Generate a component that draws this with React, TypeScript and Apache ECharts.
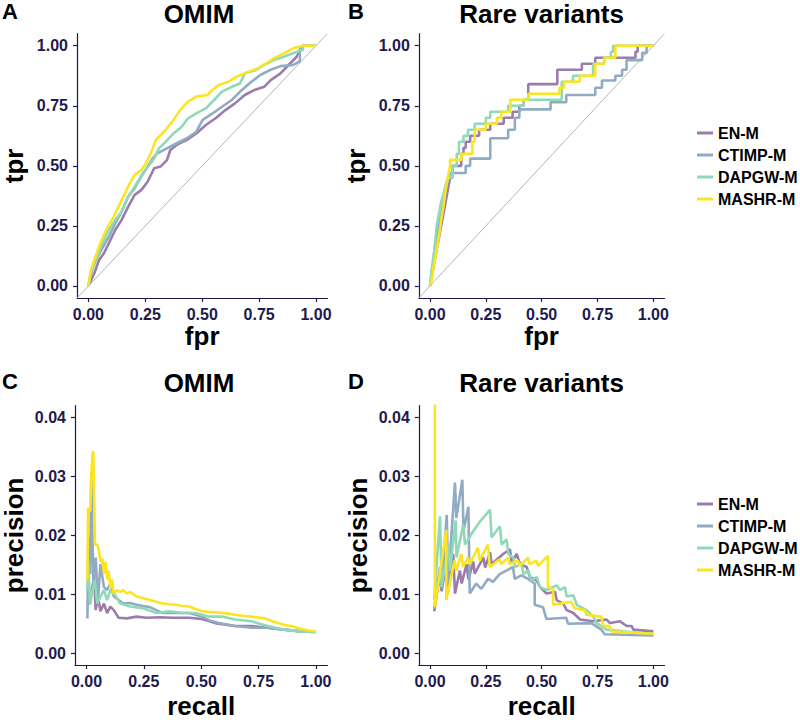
import React, { useEffect, useRef } from "react";
import * as echarts from "echarts";

const methods = ["EN-M", "CTIMP-M", "DAPGW-M", "MASHR-M"];
const methodColors = ["#9b7dac", "#90abc3", "#90d9b8", "#fbe421"];
const panelLetters = ["A", "B", "C", "D"];
const panelTitles = ["OMIM", "Rare variants", "OMIM", "Rare variants"];
const xTitles = ["fpr", "fpr", "recall", "recall"];
const yTitles = ["tpr", "tpr", "precision", "precision"];
const unitTicks = [0, 0.25, 0.5, 0.75, 1];
const precisionTicks = [0, 0.01, 0.02, 0.03, 0.04];
const diagonal = [[-0.05, -0.05], [1.05, 1.05]];

// Panel A: ROC, OMIM  [fpr, tpr]
const rocOmimEN = [[0,0],[0.026,0.053],[0.047,0.108],[0.068,0.136],[0.09,0.178],[0.118,0.233],[0.146,0.275],[0.175,0.33],[0.203,0.379],[0.232,0.399],[0.26,0.434],[0.289,0.49],[0.317,0.497],[0.345,0.524],[0.36,0.566],[0.388,0.587],[0.431,0.607],[0.474,0.635],[0.516,0.67],[0.559,0.698],[0.602,0.732],[0.644,0.76],[0.687,0.795],[0.73,0.816],[0.772,0.829],[0.801,0.857],[0.844,0.885],[0.886,0.926],[0.915,0.954],[0.929,0.982],[0.943,1],[1,1]];
const rocOmimCTIMP = [[0,0],[0.016,0.067],[0.033,0.108],[0.061,0.157],[0.09,0.205],[0.118,0.261],[0.146,0.309],[0.175,0.372],[0.203,0.406],[0.232,0.455],[0.26,0.497],[0.282,0.531],[0.303,0.552],[0.345,0.573],[0.388,0.594],[0.431,0.614],[0.474,0.642],[0.502,0.691],[0.545,0.718],[0.587,0.746],[0.63,0.774],[0.673,0.815],[0.716,0.85],[0.758,0.88],[0.801,0.9],[0.844,0.915],[0.9,0.92],[0.929,0.935],[0.929,0.982],[0.943,1],[1,1]];
const rocOmimDAPGW = [[0,0],[0.011,0.06],[0.033,0.108],[0.061,0.178],[0.09,0.233],[0.118,0.275],[0.146,0.309],[0.175,0.372],[0.203,0.413],[0.239,0.469],[0.267,0.503],[0.289,0.531],[0.31,0.573],[0.339,0.6],[0.374,0.635],[0.41,0.663],[0.438,0.698],[0.474,0.718],[0.516,0.739],[0.552,0.774],[0.587,0.809],[0.63,0.829],[0.666,0.843],[0.687,0.885],[0.737,0.899],[0.772,0.92],[0.815,0.94],[0.858,0.954],[0.915,0.975],[0.943,0.982],[0.943,1],[1,1]];
const rocOmimMASHR = [[0,0],[0.011,0.067],[0.026,0.108],[0.047,0.164],[0.068,0.212],[0.09,0.254],[0.111,0.288],[0.132,0.33],[0.161,0.386],[0.182,0.427],[0.203,0.462],[0.232,0.483],[0.253,0.51],[0.274,0.552],[0.296,0.607],[0.317,0.628],[0.345,0.656],[0.374,0.691],[0.403,0.732],[0.438,0.767],[0.474,0.788],[0.524,0.795],[0.545,0.816],[0.573,0.837],[0.616,0.85],[0.651,0.871],[0.687,0.885],[0.744,0.906],[0.779,0.926],[0.815,0.947],[0.858,0.968],[0.9,0.989],[0.943,1],[1,1]];

// Panel B: ROC, rare variants  [fpr, tpr]
const rocRareEN = [[0,0],[0.01,0.05],[0.02,0.1],[0.03,0.15],[0.04,0.2],[0.05,0.25],[0.06,0.3],[0.07,0.35],[0.08,0.4],[0.09,0.45],[0.1,0.45],[0.1,0.5],[0.14,0.5],[0.14,0.55],[0.15,0.55],[0.15,0.575],[0.16,0.575],[0.16,0.6],[0.18,0.6],[0.18,0.625],[0.22,0.625],[0.22,0.65],[0.27,0.65],[0.27,0.675],[0.33,0.675],[0.33,0.7],[0.37,0.7],[0.37,0.725],[0.4,0.725],[0.4,0.75],[0.42,0.75],[0.42,0.775],[0.44,0.775],[0.44,0.84],[0.57,0.84],[0.57,0.9],[0.68,0.9],[0.68,0.925],[0.74,0.925],[0.74,0.95],[0.92,0.95],[0.92,0.975],[0.93,0.975],[0.93,1],[1,1]];
const rocRareCTIMP = [[0,0],[0.01,0.05],[0.015,0.1],[0.02,0.15],[0.03,0.2],[0.04,0.25],[0.05,0.3],[0.06,0.35],[0.07,0.4],[0.08,0.44],[0.09,0.47],[0.16,0.47],[0.16,0.5],[0.18,0.5],[0.18,0.53],[0.27,0.53],[0.27,0.615],[0.35,0.615],[0.35,0.65],[0.38,0.65],[0.38,0.7],[0.4,0.7],[0.4,0.735],[0.54,0.735],[0.54,0.765],[0.61,0.765],[0.61,0.795],[0.74,0.795],[0.74,0.825],[0.77,0.825],[0.77,0.855],[0.83,0.855],[0.83,0.875],[0.86,0.875],[0.86,0.9],[0.88,0.9],[0.88,0.94],[0.95,0.94],[0.95,0.97],[0.97,0.97],[0.97,1],[1,1]];
const rocRareDAPGW = [[0,0],[0.005,0.05],[0.012,0.1],[0.02,0.15],[0.025,0.2],[0.03,0.25],[0.04,0.3],[0.05,0.35],[0.06,0.38],[0.07,0.42],[0.08,0.45],[0.1,0.45],[0.1,0.5],[0.12,0.5],[0.12,0.55],[0.13,0.55],[0.13,0.6],[0.15,0.6],[0.15,0.625],[0.17,0.625],[0.17,0.65],[0.2,0.65],[0.2,0.675],[0.25,0.675],[0.25,0.7],[0.27,0.7],[0.27,0.725],[0.35,0.725],[0.35,0.75],[0.42,0.75],[0.42,0.775],[0.59,0.775],[0.59,0.85],[0.64,0.85],[0.64,0.875],[0.73,0.875],[0.73,0.925],[0.78,0.925],[0.78,0.95],[0.81,0.95],[0.81,0.975],[0.82,0.975],[0.82,1],[1,1]];
const rocRareMASHR = [[0,0],[0.009,0.03],[0.015,0.075],[0.025,0.125],[0.035,0.18],[0.045,0.235],[0.05,0.275],[0.06,0.33],[0.07,0.4],[0.08,0.45],[0.09,0.5],[0.09,0.525],[0.14,0.525],[0.14,0.55],[0.19,0.55],[0.19,0.6],[0.2,0.6],[0.2,0.65],[0.25,0.65],[0.25,0.675],[0.3,0.675],[0.3,0.7],[0.32,0.7],[0.32,0.725],[0.36,0.725],[0.36,0.775],[0.44,0.775],[0.44,0.8],[0.58,0.8],[0.58,0.825],[0.6,0.825],[0.6,0.85],[0.67,0.85],[0.67,0.875],[0.74,0.875],[0.74,0.925],[0.78,0.925],[0.78,0.95],[0.83,0.95],[0.83,1],[1,1]];

// Panel C: precision-recall, OMIM  [recall, precision]
const prOmimEN = [[0.004,0.0082],[0.007,0.0084],[0.016,0.0098],[0.026,0.0112],[0.033,0.0129],[0.04,0.0073],[0.05,0.0096],[0.061,0.0071],[0.076,0.0084],[0.09,0.0068],[0.104,0.0079],[0.119,0.0073],[0.14,0.006],[0.176,0.0059],[0.219,0.0062],[0.261,0.006],[0.319,0.0061],[0.376,0.006],[0.447,0.006],[0.504,0.0058],[0.561,0.0051],[0.647,0.0046],[0.719,0.0046],[0.79,0.0043],[0.861,0.004],[0.933,0.0037],[1.0,0.0036]];
const prOmimCTIMP = [[0.004,0.0059],[0.007,0.014],[0.01,0.0196],[0.016,0.0134],[0.021,0.0307],[0.03,0.0118],[0.04,0.0162],[0.05,0.009],[0.061,0.0151],[0.076,0.0112],[0.09,0.0107],[0.104,0.0118],[0.119,0.0096],[0.14,0.009],[0.161,0.0084],[0.19,0.0085],[0.219,0.0082],[0.247,0.008],[0.276,0.0078],[0.304,0.0073],[0.333,0.0068],[0.39,0.0068],[0.447,0.0068],[0.504,0.0062],[0.533,0.0056],[0.576,0.0051],[0.647,0.0046],[0.719,0.0043],[0.79,0.0043],[0.861,0.004],[0.933,0.0037],[1.0,0.0036]];
const prOmimDAPGW = [[0.004,0.0107],[0.007,0.0157],[0.016,0.0082],[0.026,0.0107],[0.036,0.0123],[0.047,0.0084],[0.061,0.0096],[0.076,0.0107],[0.09,0.009],[0.104,0.0107],[0.126,0.0098],[0.147,0.0084],[0.19,0.0079],[0.247,0.0076],[0.304,0.0068],[0.361,0.0071],[0.419,0.0068],[0.476,0.0068],[0.533,0.0062],[0.59,0.0062],[0.647,0.0057],[0.719,0.0054],[0.79,0.0046],[0.861,0.004],[0.933,0.0037],[1.0,0.0036]];
const prOmimMASHR = [[0.004,0.0123],[0.007,0.0246],[0.016,0.024],[0.021,0.03],[0.026,0.034],[0.03,0.0341],[0.037,0.0184],[0.047,0.0184],[0.054,0.0175],[0.061,0.0155],[0.069,0.016],[0.076,0.0135],[0.083,0.0155],[0.09,0.0125],[0.097,0.014],[0.104,0.011],[0.111,0.0125],[0.119,0.0101],[0.133,0.0107],[0.147,0.0104],[0.161,0.0107],[0.176,0.0101],[0.19,0.0104],[0.219,0.0096],[0.247,0.0093],[0.276,0.009],[0.304,0.0087],[0.333,0.0084],[0.361,0.0083],[0.39,0.0082],[0.419,0.008],[0.447,0.0079],[0.476,0.0075],[0.504,0.0071],[0.533,0.007],[0.576,0.0069],[0.62,0.0067],[0.647,0.0065],[0.69,0.0063],[0.719,0.0062],[0.776,0.0059],[0.805,0.0055],[0.833,0.0051],[0.861,0.0048],[0.89,0.0046],[0.919,0.0043],[0.947,0.004],[0.975,0.0038],[1.0,0.0037]];

// Panel D: precision-recall, rare variants  [recall, precision]
const prRareEN = [[0.019,0.0071],[0.045,0.0135],[0.052,0.0105],[0.075,0.0155],[0.082,0.0105],[0.104,0.0168],[0.112,0.0101],[0.134,0.014],[0.142,0.0118],[0.164,0.0151],[0.172,0.0125],[0.194,0.0155],[0.2,0.0135],[0.239,0.0162],[0.247,0.0145],[0.269,0.0171],[0.276,0.0151],[0.328,0.0168],[0.358,0.0176],[0.366,0.0154],[0.388,0.0168],[0.403,0.0151],[0.433,0.0146],[0.448,0.0129],[0.478,0.0123],[0.493,0.0112],[0.522,0.0101],[0.56,0.0104],[0.567,0.009],[0.597,0.0084],[0.612,0.0073],[0.642,0.0068],[0.672,0.0057],[0.731,0.0054],[0.791,0.0057],[0.806,0.0051],[0.851,0.0054],[0.881,0.0046],[0.903,0.0046],[0.91,0.004],[1.0,0.0037]];
const prRareCTIMP = [[0.019,0.0076],[0.045,0.0146],[0.052,0.011],[0.075,0.0234],[0.082,0.012],[0.112,0.0289],[0.118,0.0229],[0.145,0.0294],[0.15,0.0207],[0.172,0.0248],[0.178,0.0101],[0.207,0.0118],[0.23,0.0109],[0.26,0.0126],[0.282,0.0121],[0.312,0.0134],[0.342,0.014],[0.372,0.0146],[0.379,0.0126],[0.409,0.0132],[0.439,0.0126],[0.469,0.0118],[0.469,0.0082],[0.506,0.0078],[0.521,0.0058],[0.61,0.006],[0.618,0.005],[0.722,0.0051],[0.767,0.004],[0.782,0.0032],[1.0,0.003]];
const prRareDAPGW = [[0.019,0.009],[0.045,0.0232],[0.052,0.0112],[0.082,0.0184],[0.09,0.014],[0.115,0.0225],[0.119,0.0162],[0.149,0.0218],[0.157,0.0184],[0.194,0.0207],[0.224,0.0223],[0.269,0.0243],[0.276,0.0196],[0.313,0.0215],[0.321,0.0184],[0.343,0.0193],[0.351,0.0168],[0.373,0.0162],[0.381,0.0146],[0.41,0.0151],[0.418,0.0134],[0.44,0.014],[0.455,0.0123],[0.478,0.0129],[0.493,0.0112],[0.522,0.0107],[0.567,0.0115],[0.582,0.0107],[0.604,0.0112],[0.612,0.0096],[0.642,0.0098],[0.657,0.0082],[0.701,0.0073],[0.731,0.0062],[0.746,0.0051],[0.791,0.004],[0.866,0.0037],[0.94,0.0034],[1.0,0.0033]];
const prRareMASHR = [[0.022,0.045],[0.022,0.0078],[0.073,0.0209],[0.073,0.009],[0.11,0.0157],[0.118,0.014],[0.14,0.0168],[0.148,0.0146],[0.17,0.0162],[0.178,0.0151],[0.215,0.0179],[0.222,0.0157],[0.26,0.0184],[0.267,0.0146],[0.312,0.0159],[0.319,0.0151],[0.349,0.0162],[0.357,0.0151],[0.394,0.0157],[0.401,0.0148],[0.439,0.0162],[0.446,0.0151],[0.476,0.0157],[0.484,0.0148],[0.528,0.0165],[0.528,0.0112],[0.551,0.0109],[0.551,0.0082],[0.633,0.0087],[0.648,0.0076],[0.693,0.0073],[0.7,0.0065],[0.767,0.0062],[0.775,0.0046],[0.804,0.0046],[0.812,0.0037],[1.0,0.0033]];

const panelData = [
  [rocOmimEN, rocOmimCTIMP, rocOmimDAPGW, rocOmimMASHR],
  [rocRareEN, rocRareCTIMP, rocRareDAPGW, rocRareMASHR],
  [prOmimEN, prOmimCTIMP, prOmimDAPGW, prOmimMASHR],
  [prRareEN, prRareCTIMP, prRareDAPGW, prRareMASHR],
];

const FONT = '"Liberation Sans", Arial, Helvetica, sans-serif';
const AXIS_COLOR = "#1d1a4d";

const grids = [
  { left: 70.6, top: 33.7, width: 256.8, height: 264.3 },
  { left: 418.8, top: 33.7, width: 245.7, height: 264.3 },
  { left: 70.6, top: 405.7, width: 256.8, height: 263.6 },
  { left: 418.8, top: 405.7, width: 245.7, height: 263.6 },
];

function makeAxisCommon(ticks: number[]) {
  return {
    axisLine: { show: true, onZero: false, lineStyle: { color: AXIS_COLOR, width: 1.2 } },
    axisTick: { show: true, length: 4, customValues: ticks, lineStyle: { color: AXIS_COLOR, width: 1.2 } },
    axisLabel: {
      customValues: ticks,
      formatter: (v: number) => v.toFixed(2),
      fontSize: 16,
      fontWeight: "bold",
      color: AXIS_COLOR,
      fontFamily: FONT,
    },
    splitLine: { show: false },
    nameLocation: "middle",
    nameTextStyle: { fontSize: 26, fontWeight: "bold", color: "#000", fontFamily: FONT },
  };
}

export default function App() {
  const ref = useRef<HTMLDivElement>(null);
  useEffect(() => {
    if (!ref.current) return;
    const chart = echarts.init(ref.current, null, { renderer: "svg" });

    const xAxis = grids.map((_, i) => {
      const c: any = makeAxisCommon(unitTicks);
      c.axisLabel = { ...c.axisLabel, margin: 8 };
      return { ...c, type: "value", gridIndex: i, min: -0.05, max: 1.05, name: xTitles[i], nameGap: i < 2 ? 23 : 28 };
    });
    const yAxis = grids.map((_, i) => {
      const ticks = i < 2 ? unitTicks : precisionTicks;
      const c: any = makeAxisCommon(ticks);
      c.axisLabel = { ...c.axisLabel, margin: 9 };
      return {
        ...c,
        type: "value",
        gridIndex: i,
        min: i < 2 ? -0.05 : -0.002,
        max: i < 2 ? 1.05 : 0.04193,
        name: yTitles[i],
        nameGap: i < 2 ? 50 : 48,
      };
    });

    const series: any[] = [];
    [0, 1].forEach((i) => {
      series.push({
        type: "line",
        xAxisIndex: i,
        yAxisIndex: i,
        data: diagonal,
        showSymbol: false,
        silent: true,
        lineStyle: { color: "#b5b5b5", width: 1 },
        emphasis: { disabled: true },
      });
    });
    panelData.forEach((curves, i) => {
      curves.forEach((d, m) => {
        series.push({
          type: "line",
          name: methods[m],
          xAxisIndex: i,
          yAxisIndex: i,
          data: d,
          showSymbol: false,
          symbol: "none",
          clip: true,
          color: methodColors[m],
          lineStyle: { color: methodColors[m], width: 2.6 },
          emphasis: { disabled: true },
        });
      });
    });

    const legendBase = {
      orient: "vertical",
      left: 697,
      padding: 0,
      data: methods,
      icon: "rect",
      itemWidth: 16,
      itemHeight: 3,
      itemGap: 0,
      selectedMode: false,
      textStyle: { fontSize: 16, fontWeight: "bold", color: "#000", fontFamily: FONT, lineHeight: 22, height: 22 },
    };

    const textEl = (text: string, x: number, y: number, size: number, align: string) => ({
      type: "text",
      x,
      y,
      style: {
        text,
        fontSize: size,
        fontWeight: "bold",
        fontFamily: FONT,
        fill: "#000",
        lineHeight: 20,
        textAlign: align,
        align,
        textVerticalAlign: "middle",
        verticalAlign: "middle",
      },
    });
    const letterPos = [[2, 11], [348, 11], [2, 381.5], [348, 381.5]];
    const titleX = [199, 541.6, 199, 541.6];
    const titleY = [13.5, 13.5, 382.5, 382.5];
    const graphic: any[] = [];
    panelLetters.forEach((l, i) => graphic.push(textEl(l, letterPos[i][0], letterPos[i][1], 22, "left")));
    panelTitles.forEach((t, i) => graphic.push(textEl(t, titleX[i], titleY[i], 26, "center")));

    chart.setOption({
      animation: false,
      backgroundColor: "#ffffff",
      grid: grids.map((g) => ({ ...g, containLabel: false })),
      xAxis,
      yAxis,
      series,
      legend: [
        { ...legendBase, top: 122 },
        { ...legendBase, top: 493 },
      ],
      graphic,
    });
    return () => chart.dispose();
  }, []);
  return (
    <div
      ref={ref}
      style={{ position: "fixed", left: 0, top: 0, width: 800, height: 720, background: "#fff" }}
    />
  );
}
